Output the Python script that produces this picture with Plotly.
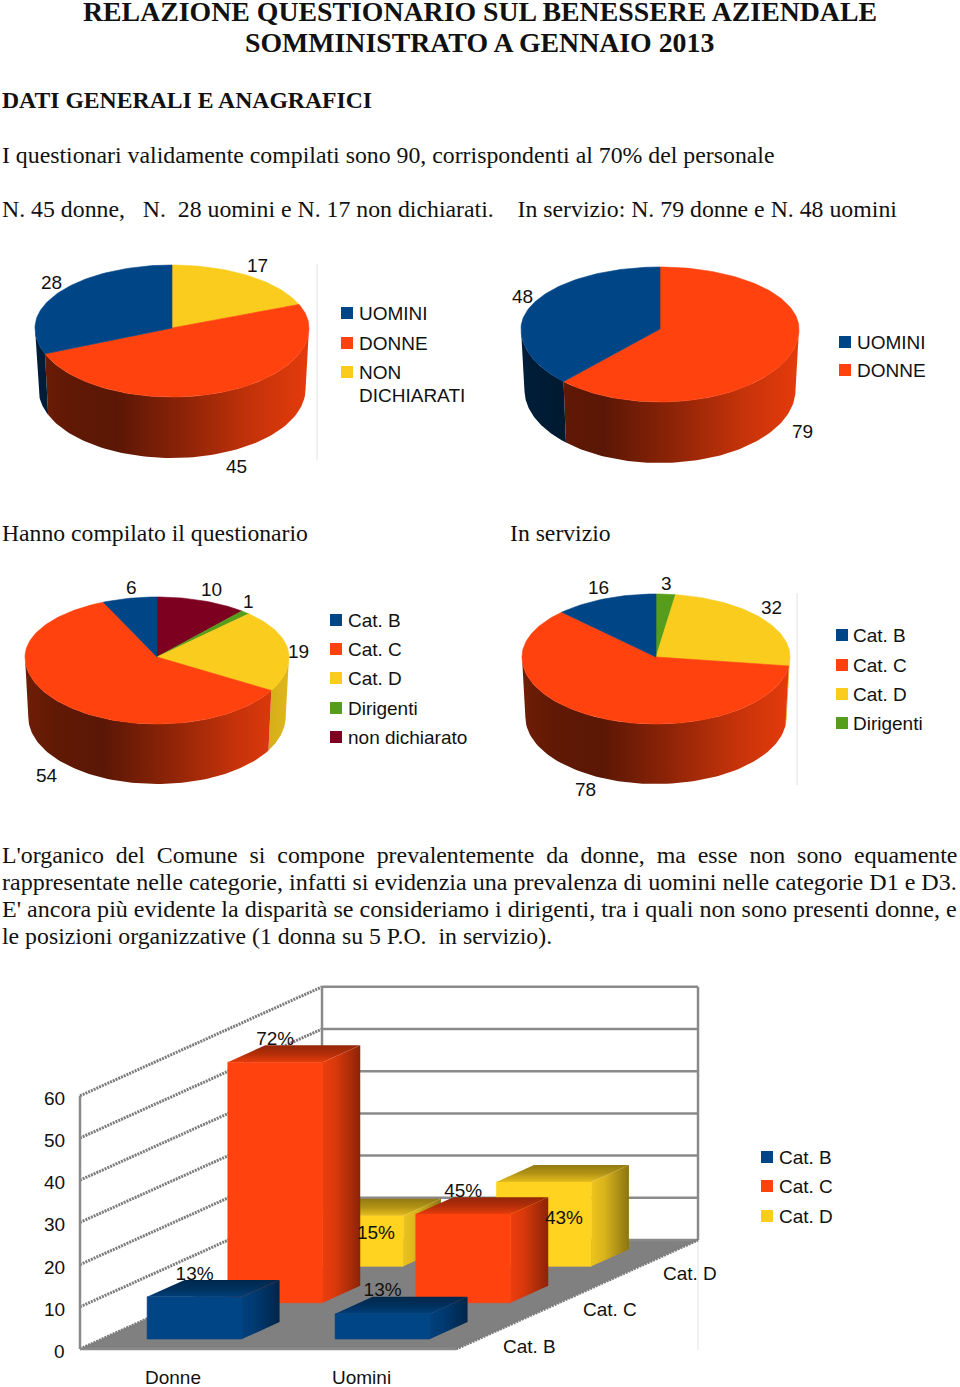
import math
import plotly.graph_objects as go

# ---------- data ----------
pie1_labels = ["NON DICHIARATI", "DONNE", "UOMINI"]
pie1_values = [17, 45, 28]
pie2_labels = ["DONNE", "UOMINI"]
pie2_values = [79, 48]
pie3_labels = ["non dichiarato", "Dirigenti", "Cat. D", "Cat. C", "Cat. B"]
pie3_values = [10, 1, 19, 54, 6]
pie4_labels = ["Dirigenti", "Cat. D", "Cat. C", "Cat. B"]
pie4_values = [3, 32, 78, 16]

bar_categories = ["Donne", "Uomini"]
bar_series = ["Cat. B", "Cat. C", "Cat. D"]
bar_cat_b = [10, 6]
bar_cat_c = [57, 21]
bar_cat_d = [12, 20]
bar_pct_b = ["13%", "13%"]
bar_pct_c = ["72%", "45%"]
bar_pct_d = ["15%", "43%"]
y_ticks = [0, 10, 20, 30, 40, 50, 60]

# ---------- style ----------
COL = {"UOMINI": "#004586", "DONNE": "#ff420e", "NON DICHIARATI": "#f9cc1e",
       "Cat. B": "#004586", "Cat. C": "#ff420e", "Cat. D": "#f9cc1e",
       "Dirigenti": "#579d1c", "non dichiarato": "#7e0021"}
BAR_COL = {"Cat. B": "#004586", "Cat. C": "#ff420e", "Cat. D": "#ffd320"}
SANS = "Liberation Sans"
SERIF = "Liberation Serif"
NB = "\u00a0"
LAB = 19

fig = go.Figure()
annots = []


def text(x, y, s, size=LAB, font=SANS, anchor="left", color="#111111", bold=False):
    if bold:
        s = "<b>" + s + "</b>"
    annots.append(dict(x=x, y=y, text=s, showarrow=False, xanchor=anchor, yanchor="middle",
                       xref="x", yref="y", borderpad=0,
                       font=dict(family=font, size=size, color=color)))


def poly(xs, ys, color=None, grad=None):
    tr = dict(x=xs + xs[:1], y=ys + ys[:1], mode="lines", fill="toself", hoverinfo="skip",
              showlegend=False, line=dict(width=0.6, color=color or "rgba(0,0,0,0)"))
    if grad:
        tr["fillgradient"] = grad
        tr["line"] = dict(width=0)
    else:
        tr["fillcolor"] = color
    fig.add_trace(go.Scatter(**tr))


def rgb(h):
    return tuple(int(h[i:i + 2], 16) for i in (1, 3, 5))


def scale(hexcol, stops):
    r, g, b = rgb(hexcol)
    return [[t, f"rgb({int(r*m)},{int(g*m)},{int(b*m)})"] for t, m in stops]


WALL = [(0, .44), (.12, .38), (.3, .36), (.55, .56), (.8, .78), (1, .9)]


def pie(labels, values, cx, cy, rx, back, front, depth, k=.975):
    total = sum(values)

    def top(t):
        c, s = math.cos(math.radians(t)), math.sin(math.radians(t))
        return cx + rx * s, cy - (back if c > 0 else front) * c

    def bot(t):
        c, s = math.cos(math.radians(t)), math.sin(math.radians(t))
        return cx + rx * k * s, cy + depth - (back if c > 0 else front) * c

    angle = 0
    wedges = []
    for lab, v in zip(labels, values):
        a1 = angle + 360 * v / total
        wedges.append((lab, angle, a1))
        angle = a1
    for lab, a0, a1 in wedges:
        lo, hi = max(a0, 90), min(a1, 270)
        if hi <= lo:
            continue
        ts = [lo + (hi - lo) * i / 80 for i in range(81)]
        up = [top(t) for t in ts]
        dn = [bot(t) for t in reversed(ts)]
        poly([p[0] for p in up + dn], [p[1] for p in up + dn],
             grad=dict(type="horizontal", start=cx - rx, stop=cx + rx,
                       colorscale=scale(COL[lab], WALL)))
    for lab, a0, a1 in wedges:
        n = max(2, int((a1 - a0) / 1.5))
        ts = [a0 + (a1 - a0) * i / n for i in range(n + 1)]
        pts = [(cx, cy)] + [top(t) for t in ts]
        poly([p[0] for p in pts], [p[1] for p in pts], color=COL[lab])


def legend(x, ys, labs, tx, lines=None):
    for y, lab in zip(ys, labs):
        fig.add_trace(go.Scatter(x=[x], y=[y], mode="markers", hoverinfo="skip", showlegend=False,
                                 marker=dict(symbol="square", size=12, color=COL[lab])))
        text(tx, y, lab)


def vline(x, y0, y1):
    fig.add_trace(go.Scatter(x=[x, x], y=[y0, y1], mode="lines", hoverinfo="skip", showlegend=False,
                             line=dict(color="#e2e2e2", width=1)))


# ---------- page text ----------
text(480, 11, "RELAZIONE QUESTIONARIO SUL BENESSERE AZIENDALE", 27.8, SERIF, "center", bold=True)
text(479.5, 42.5, "SOMMINISTRATO A GENNAIO 2013", 27.8, SERIF, "center", bold=True)
text(0.5, 99.5, "DATI GENERALI E ANAGRAFICI", 23.7, SERIF, bold=True)
text(0.5, 154.5, "I questionari validamente compilati sono 90, corrispondenti al 70% del personale", 23.8, SERIF)
text(0.5, 208.5, f"N. 45 donne,{NB}{NB} N.{NB} 28 uomini e N. 17 non dichiarati.{NB}{NB}{NB} In servizio: N. 79 donne e N. 48 uomini", 23.8, SERIF)
text(0.5, 532.5, "Hanno compilato il questionario", 23.7, SERIF)
text(508.5, 532.5, "In servizio", 23.7, SERIF)
para = ["L'organico del Comune si compone prevalentemente da donne, ma esse non sono equamente",
        "rappresentate nelle categorie, infatti si evidenzia una prevalenza di uomini nelle categorie D1 e D3.",
        "E' ancora più evidente la disparità se consideriamo i dirigenti, tra i quali non sono presenti donne, e",
        "le posizioni organizzative (1 donna su 5 P.O.  in servizio)."]
para[0] = para[0].replace(" ", NB * 2)
for y, s, sz in zip([854.5, 881.5, 908.5, 935.5], para, [23.85, 24.05, 24.05, 23.8]):
    text(0.5, y, s, sz, SERIF)

# ---------- pies ----------
vline(317, 264, 460)
pie(pie1_labels, pie1_values, 172, 328, 137, 63, 69, 61)
for x, y, v in zip([257, 236, 51], [265, 466, 282], pie1_values):
    text(x, y, str(v), anchor="center")
legend(347, [313, 343, 372], ["UOMINI", "DONNE", "NON DICHIARATI"], 357.5)
annots.pop()
text(357.5, 372, "NON")
text(357.5, 395, "DICHIARATI")

pie(pie2_labels, pie2_values, 660, 329, 139, 62, 73, 61)
for x, y, v in zip([802, 522], [431, 296], pie2_values):
    text(x, y, str(v), anchor="center")
legend(845, [342, 370], ["UOMINI", "DONNE"], 855.5)

pie(pie3_labels, pie3_values, 157, 657, 132, 60, 67, 60)
for x, y, v in zip([211, 248, 298, 47, 131], [589, 601, 651, 775, 587], pie3_values):
    text(x, y, str(v), anchor="center")
legend(336, [620, 649, 678, 708, 737], ["Cat. B", "Cat. C", "Cat. D", "Dirigenti", "non dichiarato"], 346.5)

vline(797, 593, 785)
pie(pie4_labels, pie4_values, 656, 657, 134, 63, 67, 60)
for x, y, v in zip([666, 771, 585, 598], [583, 607, 789, 587], pie4_values):
    text(x, y, str(v), anchor="center")
legend(842, [635, 665, 694, 723], ["Cat. B", "Cat. C", "Cat. D", "Dirigenti"], 851.5)

# ---------- 3-D bars ----------
X0, Y0 = 80, 1349
CAT_W = 188
ROW_DX, ROW_DY = 80.67, -36.33
UNIT = 4.22


def P(u, v, val=0):
    return X0 + CAT_W * u + ROW_DX * v, Y0 + ROW_DY * v - UNIT * val


def grid(a, b):
    fig.add_trace(go.Scatter(x=[a[0], b[0]], y=[a[1], b[1]], mode="lines", hoverinfo="skip",
                             showlegend=False, line=dict(color="#8a8a8a", width=2.5)))


def grid_dot(a, b):
    fig.add_trace(go.Scatter(x=[a[0], b[0]], y=[a[1], b[1]], mode="lines", hoverinfo="skip",
                             showlegend=False, line=dict(color="#7c7c7c", width=3, dash="2px,1px")))


vline(698, 1240, 1350)
nu, nr = len(bar_categories), len(bar_series)
floor = [P(0, 0), P(nu, 0), P(nu, nr), P(0, nr)]
poly([p[0] for p in floor], [p[1] for p in floor], color="#808080")
for t in y_ticks:
    grid(P(0, nr, t), P(nu, nr, t))
    grid_dot(P(0, 0, t), P(0, nr, t))
grid(P(0, nr, 0), P(0, nr, y_ticks[-1]))
grid(P(nu, nr, 0), P(nu, nr, y_ticks[-1]))
grid(P(0, 0, 0), P(0, 0, y_ticks[-1]))
grid(P(0, 0, 0), P(nu, 0, 0))
grid_dot(P(nu, 0, 0), P(nu, nr, 0))


def bar(i, r, val, col):
    u0, u1 = i + .239, i + .744
    v0, v1 = r + .275, r + .74
    f = [P(u0, v0, 0), P(u1, v0, 0), P(u1, v0, val), P(u0, v0, val)]
    s = [P(u1, v0, 0), P(u1, v1, 0), P(u1, v1, val), P(u1, v0, val)]
    t = [P(u0, v0, val), P(u1, v0, val), P(u1, v1, val), P(u0, v1, val)]
    poly([p[0] for p in f], [p[1] for p in f], color=col)
    poly([p[0] for p in s], [p[1] for p in s],
         grad=dict(type="horizontal", start=s[0][0], stop=s[1][0],
                   colorscale=scale(col, [(0, .93), (.35, .85), (1, .55)])))
    poly([p[0] for p in t], [p[1] for p in t],
         grad=dict(type="vertical", start=t[2][1], stop=t[0][1],
                   colorscale=scale(col, [(0, .58), (.5, .7), (1, .9)])))


def bar_label(x, y, s):
    fig.add_trace(go.Scatter(x=[x], y=[y], mode="text", text=[s], hoverinfo="skip", showlegend=False,
                             textposition="middle center",
                             textfont=dict(family=SANS, size=LAB, color="#111111")))


rows = [(2, bar_cat_d, bar_pct_d, "Cat. D"), (1, bar_cat_c, bar_pct_c, "Cat. C"), (0, bar_cat_b, bar_pct_b, "Cat. B")]
late = []
for r, vals, pcts, name in rows:
    for i, (v, pct) in enumerate(zip(vals, pcts)):
        cx_f = P(i + .4915, r + .275, v)
        if r == 2:
            late.append((cx_f[0] + 20, cx_f[1] + (19 if i == 0 else 37), pct))
        else:
            bar_label(cx_f[0], cx_f[1] - 22, pct)
        bar(i, r, v, BAR_COL[name])
for x, y, s in late:
    bar_label(x, y, s)

for t in y_ticks:
    text(65.5, P(0, 0, t)[1] + 2.5, str(t), anchor="right")
for i, c in enumerate(bar_categories):
    px = P(i + .49, 0)
    text(px[0] + 1, 1377, c, anchor="center")
for r, s in enumerate(bar_series):
    px = P(nu, r + .0)
    text(px[0] + 73, px[1] - 3, s, anchor="center")
legend(767, [1157, 1186, 1216], ["Cat. B", "Cat. C", "Cat. D"], 777.5)

fig.update_layout(
    width=960, height=1387, margin=dict(l=0, r=0, t=0, b=0),
    paper_bgcolor="white", plot_bgcolor="white", showlegend=False, annotations=annots,
    xaxis=dict(range=[0, 960], visible=False, fixedrange=True),
    yaxis=dict(range=[1387, 0], visible=False, fixedrange=True),
)
fig.write_html("out.html", config={"displayModeBar": False},
               post_script="document.body.style.margin='0';")
